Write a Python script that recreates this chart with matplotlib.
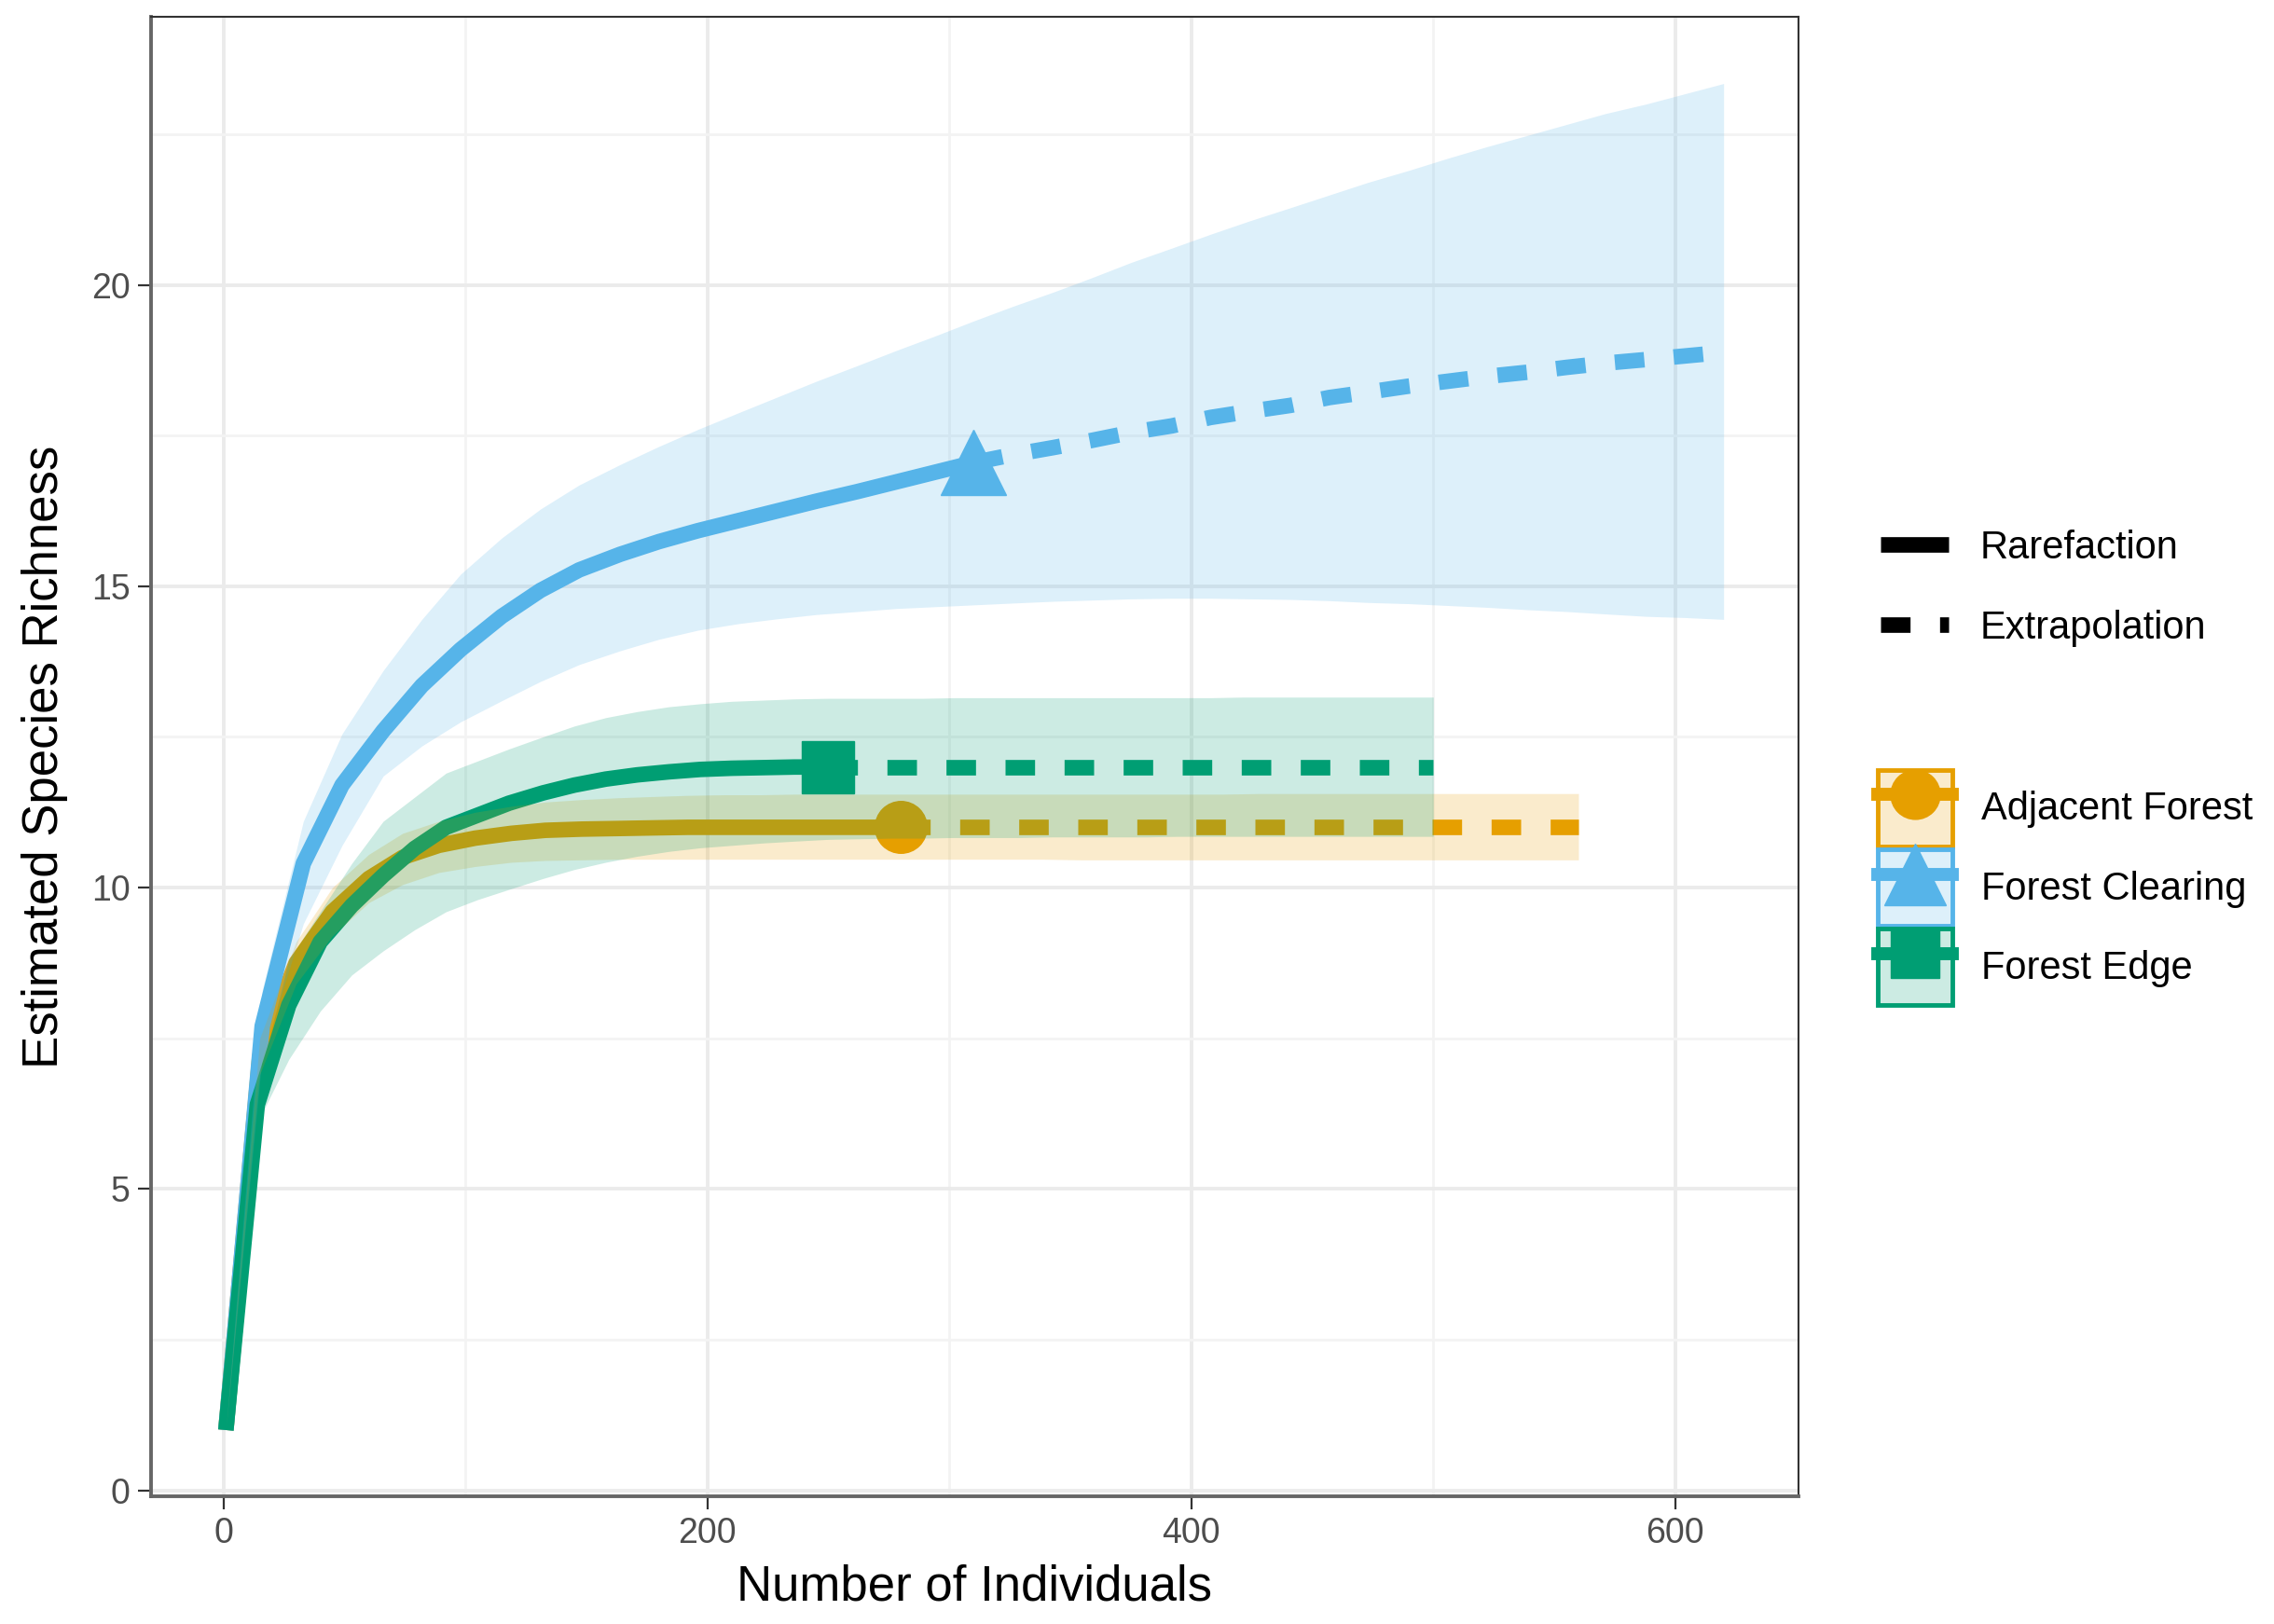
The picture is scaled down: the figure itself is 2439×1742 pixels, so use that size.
import matplotlib
matplotlib.use("Agg")
import matplotlib.pyplot as plt
from matplotlib.lines import Line2D
from matplotlib.patches import Patch
from matplotlib.legend_handler import HandlerTuple
from matplotlib.ticker import MultipleLocator

plt.rcParams['font.family'] = ['Liberation Sans', 'DejaVu Sans']

groups = ["Adjacent Forest", "Forest Clearing", "Forest Edge"]
colors = ["#E69F00", "#56B4E9", "#009E73"]
markers = ["o", "^", "s"]
marker_sizes = [40, 50, 40]

# Adjacent Forest : observed sample size 280
af_n = 280
af_x = [1, 15, 30, 45, 60, 74, 89, 104, 119, 133, 148, 163, 177, 192, 207, 222, 236, 251, 266, 280,
        295, 310, 324, 339, 354, 369, 383, 398, 413, 428, 442, 457, 472, 487, 501, 516, 531, 546, 560]
af_y = [1.0, 7.2, 8.75, 9.6, 10.15, 10.5, 10.7, 10.82, 10.9, 10.95, 10.97, 10.98, 10.99, 11.0, 11.0, 11.0, 11.0, 11.0, 11.0, 11.0,
        11.0, 11.0, 11.0, 11.0, 11.0, 11.0, 11.0, 11.0, 11.0, 11.0, 11.0, 11.0, 11.0, 11.0, 11.0, 11.0, 11.0, 11.0, 11.0]
af_lo = [1.0, 6.9, 8.4, 9.2, 9.75, 10.05, 10.25, 10.35, 10.42, 10.45, 10.46, 10.47, 10.47, 10.47, 10.47, 10.47, 10.47, 10.47, 10.47, 10.47,
         10.47, 10.47, 10.47, 10.47, 10.46, 10.46, 10.46, 10.46, 10.46, 10.46, 10.46, 10.46, 10.46, 10.46, 10.46, 10.46, 10.46, 10.46, 10.46]
af_hi = [1.0, 7.5, 9.1, 10.0, 10.55, 10.9, 11.1, 11.25, 11.35, 11.42, 11.46, 11.49, 11.51, 11.53, 11.54, 11.54, 11.55, 11.55, 11.55, 11.55,
         11.55, 11.55, 11.55, 11.55, 11.55, 11.55, 11.55, 11.55, 11.55, 11.56, 11.56, 11.56, 11.56, 11.56, 11.56, 11.56, 11.56, 11.56, 11.56]

# Forest Clearing : observed sample size 310
fc_n = 310
fc_x = [1, 16, 33, 49, 66, 82, 98, 115, 131, 147, 164, 180, 196, 213, 229, 245, 262, 278, 294, 310,
        326, 343, 359, 375, 392, 408, 424, 441, 457, 473, 490, 506, 522, 539, 555, 571, 588, 604, 620]
fc_y = [1.0, 7.7, 10.4, 11.7, 12.6, 13.35, 13.95, 14.5, 14.93, 15.27, 15.53, 15.74, 15.92, 16.09, 16.25, 16.41, 16.57, 16.73, 16.89, 17.05,
        17.18, 17.3, 17.42, 17.55, 17.66, 17.8, 17.9, 18.0, 18.13, 18.22, 18.32, 18.4, 18.48, 18.55, 18.63, 18.7, 18.76, 18.82, 18.88]
fc_lo = [1.0, 7.2, 9.4, 10.7, 11.85, 12.35, 12.75, 13.1, 13.42, 13.7, 13.93, 14.12, 14.27, 14.38, 14.46, 14.53, 14.58, 14.63, 14.66, 14.69,
         14.72, 14.75, 14.77, 14.79, 14.8, 14.8, 14.79, 14.78, 14.76, 14.73, 14.71, 14.68, 14.65, 14.61, 14.58, 14.54, 14.5, 14.48, 14.45]
fc_hi = [1.0, 8.3, 11.1, 12.55, 13.6, 14.45, 15.2, 15.8, 16.28, 16.68, 17.02, 17.32, 17.6, 17.88, 18.14, 18.4, 18.66, 18.91, 19.15, 19.4,
         19.64, 19.88, 20.12, 20.37, 20.61, 20.84, 21.06, 21.28, 21.49, 21.7, 21.9, 22.1, 22.29, 22.48, 22.66, 22.84, 23.0, 23.17, 23.34]

# Forest Edge : observed sample size 250
fe_n = 250
fe_x = [1, 14, 27, 40, 53, 66, 79, 92, 105, 118, 132, 145, 158, 171, 184, 197, 210, 223, 236, 250,
        263, 276, 289, 302, 316, 329, 342, 355, 368, 381, 394, 408, 421, 434, 447, 460, 473, 486, 500]
fe_y = [1.0, 6.4, 8.05, 9.1, 9.7, 10.2, 10.65, 11.0, 11.2, 11.4, 11.57, 11.7, 11.8, 11.87, 11.92, 11.96, 11.98, 11.99, 12.0, 12.0,
        12.0, 12.0, 12.0, 12.0, 12.0, 12.0, 12.0, 12.0, 12.0, 12.0, 12.0, 12.0, 12.0, 12.0, 12.0, 12.0, 12.0, 12.0, 12.0]
fe_lo = [1.0, 6.1, 7.15, 7.95, 8.55, 8.95, 9.3, 9.6, 9.8, 9.97, 10.15, 10.3, 10.42, 10.52, 10.6, 10.66, 10.7, 10.74, 10.77, 10.8,
         10.81, 10.82, 10.82, 10.83, 10.83, 10.83, 10.84, 10.84, 10.84, 10.84, 10.85, 10.85, 10.85, 10.85, 10.85, 10.85, 10.85, 10.85, 10.85]
fe_hi = [1.0, 6.7, 8.8, 9.6, 10.4, 11.1, 11.5, 11.9, 12.1, 12.3, 12.5, 12.68, 12.82, 12.92, 13.0, 13.05, 13.09, 13.11, 13.13, 13.14,
         13.14, 13.14, 13.14, 13.15, 13.15, 13.15, 13.15, 13.15, 13.15, 13.15, 13.15, 13.15, 13.16, 13.16, 13.16, 13.16, 13.16, 13.16, 13.16]

series = [
    (af_n, af_x, af_y, af_lo, af_hi),
    (fc_n, fc_x, fc_y, fc_lo, fc_hi),
    (fe_n, fe_x, fe_y, fe_lo, fe_hi),
]

LW = 12
DASH = (0, (1.9, 1.9))

fig = plt.figure(figsize=(24.39, 17.42), dpi=100)
ax = fig.add_axes([0.0664, 0.0786, 0.7245, 0.9108])

for (n, xs, ys, lo, hi), c, m, ms in zip(series, colors, markers, marker_sizes):
    k = xs.index(n)
    ax.plot(xs[:k + 1], ys[:k + 1], color=c, lw=LW, solid_capstyle='butt', zorder=2)
    ax.plot(xs[k:], ys[k:], color=c, lw=LW, linestyle=DASH, dash_capstyle='butt', zorder=2)
    ax.plot([xs[k]], [ys[k]], marker=m, color=c, markersize=ms, linestyle='none', zorder=3)

# ribbons are drawn on top of the lines, like in the original
for (n, xs, ys, lo, hi), c in zip(series, colors):
    ax.fill_between(xs, lo, hi, color=c, alpha=0.2, linewidth=0, zorder=4)

ax.set_xlim(-29.95, 650.95)
ax.set_ylim(-0.1, 24.44)
ax.xaxis.set_major_locator(MultipleLocator(200))
ax.xaxis.set_minor_locator(MultipleLocator(100))
ax.yaxis.set_major_locator(MultipleLocator(5))
ax.yaxis.set_minor_locator(MultipleLocator(2.5))

ax.grid(which='major', color='#EBEBEB', lw=2.8, zorder=0)
ax.grid(which='minor', color='#F3F3F3', lw=2.0, zorder=0)
ax.set_axisbelow(True)

ax.tick_params(which='major', length=10, width=1.6, color='#333333', labelsize=27,
               labelcolor='#4D4D4D', pad=6)
ax.tick_params(which='minor', length=0)

for s in ['top', 'right']:
    ax.spines[s].set_color('#333333')
    ax.spines[s].set_linewidth(1.5)
for s in ['left', 'bottom']:
    ax.spines[s].set_color('#666666')
    ax.spines[s].set_linewidth(2.8)

ax.set_xlabel("Number of Individuals", fontsize=38, labelpad=10)
ax.set_ylabel("Estimated Species Richness", fontsize=38, labelpad=18)

# legend for the method (line type)
h_rare = Line2D([], [], color='black', lw=LW, solid_capstyle='butt')
h_ext = Line2D([], [], color='black', lw=LW, linestyle=DASH, dash_capstyle='butt')
fig.legend([h_rare, h_ext], ["Rarefaction", "Extrapolation"], loc='center left',
           bbox_to_anchor=(2017 / 2439, 1 - 631 / 1742), frameon=False, fontsize=30,
           handlelength=1.75, handletextpad=0.8, labelspacing=1.1,
           borderaxespad=0, borderpad=0)

# legend for the assemblages
handles = []
for c, m, ms in zip(colors, markers, marker_sizes):
    box = Patch(facecolor=c + '33', edgecolor=c, linewidth=3.5)
    mk = Line2D([], [], color=c, lw=10, marker=m, markersize=ms * 0.95)
    handles.append((box, mk))
fig.legend(handles, groups, loc='center left', bbox_to_anchor=(2014 / 2439, 1 - 952 / 1742),
           frameon=False, fontsize=30, handlelength=1.92, handleheight=2.65,
           handletextpad=0.74, labelspacing=0.08, borderaxespad=0, borderpad=0,
           numpoints=1, handler_map={tuple: HandlerTuple(ndivide=1, pad=0)})

fig.savefig("out.png", dpi=100)
